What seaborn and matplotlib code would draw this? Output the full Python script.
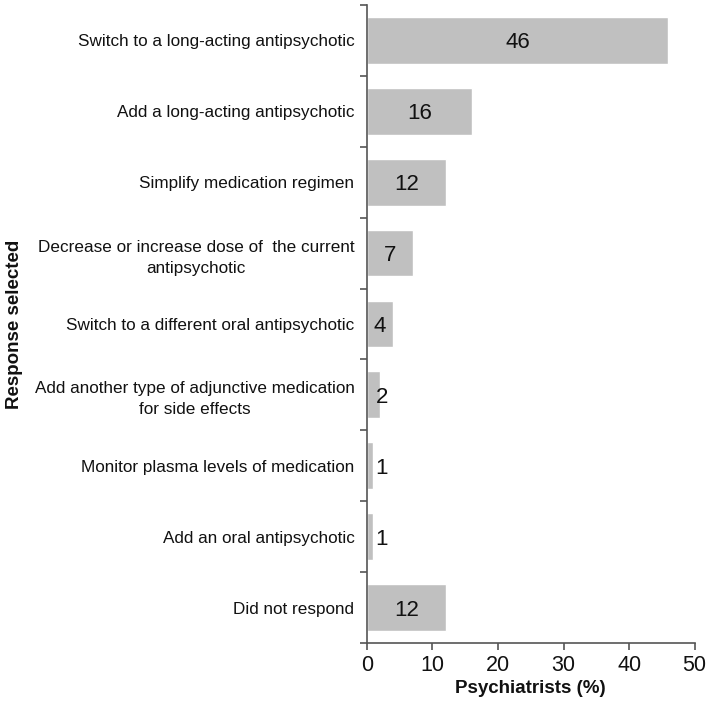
import seaborn as sns
import matplotlib.pyplot as plt
import pandas as pd

responses = [
    "Switch to a long-acting antipsychotic",
    "Add a long-acting antipsychotic",
    "Simplify medication regimen",
    "Decrease or increase dose of  the current\nantipsychotic",
    "Switch to a different oral antipsychotic",
    "Add another type of adjunctive medication\nfor side effects",
    "Monitor plasma levels of medication",
    "Add an oral antipsychotic",
    "Did not respond",
]
percent = [46, 16, 12, 7, 4, 2, 1, 1, 12]

df = pd.DataFrame({"response": responses, "percent": percent})

sns.set_style("white")
plt.rcParams['font.family'] = ['Liberation Sans', 'DejaVu Sans']

fig = plt.figure(figsize=(7.11, 7.05), dpi=100)
ax = fig.add_axes([0.516, 0.088, 0.461, 0.905])

sns.barplot(data=df, x="percent", y="response", color="#c0c0c0",
            saturation=1, width=0.66, ax=ax)

# value labels: centred in the bar, pushed right of tiny bars
for i, v in enumerate(percent):
    xpos = v / 2 if v >= 4 else 2.3
    ax.text(xpos, i, str(v), ha="center", va="center_baseline", fontsize=16, color="#111111")

ax.set_xlim(0, 50)
ax.set_ylim(len(responses) - 0.5, -0.5)
ax.set_xticks(range(0, 51, 10))
ax.set_yticks([i - 0.5 for i in range(len(responses) + 1)], minor=False)
ax.set_yticklabels([])
ax.set_yticks(range(len(responses)), minor=True)
ax.set_yticklabels(responses, minor=True, fontsize=12.3, ha="right",
                   multialignment="center", linespacing=1.5, color="#111111")
ax.tick_params(axis="y", which="minor", length=0, pad=9)
ax.tick_params(axis="y", which="major", length=5, width=1.2, color="#555555", direction="out", left=True)
ax.tick_params(axis="x", length=5, width=1.2, color="#555555", labelsize=15.5,
               labelcolor="#111111", direction="out", bottom=True)

sns.despine(ax=ax, top=True, right=True)
for s in ["left", "bottom"]:
    ax.spines[s].set_color("#555555")
    ax.spines[s].set_linewidth(1.2)

ax.set_xlabel("Psychiatrists (%)", fontsize=13.5, fontweight="bold", color="#111111", labelpad=3)
ax.set_ylabel("Response selected", fontsize=13.5, fontweight="bold", color="#111111")
ax.yaxis.set_label_coords(-1.05, 0.5)

plt.savefig("out.png", dpi=100)
